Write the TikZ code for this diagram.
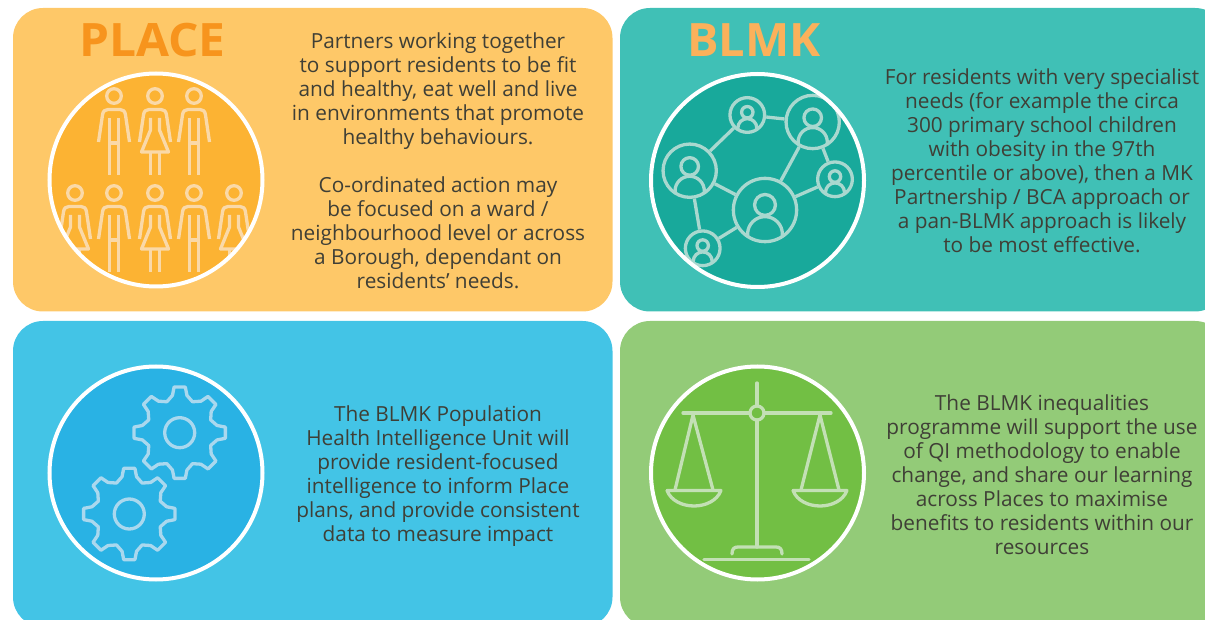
\documentclass[tikz,border=0pt]{standalone}
\usepackage{fontspec}
\setmainfont{Open Sans}
\definecolor{panO}{HTML}{FEC868}
\definecolor{panT}{HTML}{40C0B6}
\definecolor{panB}{HTML}{43C4E6}
\definecolor{panG}{HTML}{93CB78}
\definecolor{fillO}{HTML}{FCB333}
\definecolor{fillT}{HTML}{18A99B}
\definecolor{fillB}{HTML}{29B2E4}
\definecolor{fillG}{HTML}{72BF44}
\definecolor{lineO}{HTML}{FAD9A8}
\definecolor{lineT}{HTML}{A9D8CF}
\definecolor{lineB}{HTML}{AAD8EE}
\definecolor{lineG}{HTML}{C3E0B5}
\definecolor{txt}{HTML}{3F3F36}
\definecolor{titleO}{HTML}{F7941D}
\definecolor{titleT}{HTML}{FBB15B}
\tikzset{
  panel/.style={rounded corners=30pt},
  disc/.style={draw=white,line width=4pt},
  icon/.style={line width=3.3pt,line join=round},
  body/.style={font=\fontsize{20.8}{24}\selectfont,text=txt,align=center,inner sep=0pt},
  heading/.style={font=\fontsize{46}{50}\selectfont\bfseries,inner sep=0pt},
  netnode/.style={circle,draw=lineT,line width=3.3pt,inner sep=0pt,minimum size=#1}
}
\newcommand{\manicon}[2]{%
  \begin{scope}[shift={(#1,#2)}]
    \draw (0,0) circle (7.3pt);
    \draw (-15.5,46) -- (-11.5,19) .. controls (-11,15) and (-9,13.5) .. (-6,13.5) -- (6,13.5) .. controls (9,13.5) and (11,15) .. (11.5,19) -- (15.5,46);
    \draw (-4.5,22) -- (-4.5,79) (4.5,22) -- (4.5,79) (-4.5,47) -- (4.5,47);
  \end{scope}}
\newcommand{\womanicon}[2]{%
  \begin{scope}[shift={(#1,#2)}]
    \draw (0,0) circle (7.3pt);
    \draw (-15.5,46) -- (-11.5,19) .. controls (-11,15) and (-9,13.5) .. (-6,13.5) -- (6,13.5) .. controls (9,13.5) and (11,15) .. (11.5,19) -- (15.5,46);
    \draw (-4.5,22) -- (-4.5,34) -- (-13.5,56) -- (13.5,56) -- (4.5,34) -- (4.5,22);
    \draw (-4.5,56) -- (-4.5,79) (4.5,56) -- (4.5,79);
  \end{scope}}
\newcommand{\netperson}[2]{%
  \begin{scope}[shift={(#1)}]
    \clip (0,0) circle (#2 pt);
    \draw (0,{-.16*#2}) circle ({.33*#2 pt});
    \draw (0,{.76*#2}) circle ({.55*#2 pt});
  \end{scope}}
\newcommand{\gearicon}[2]{%
  \begin{scope}[shift={(#1,#2)}]
    \draw (0,0) circle (15pt);
    \draw (-7:46)
      \foreach \a in {0,45,...,315} {
        -- ({\a-7}:46) -- ({\a+7}:46) -- ({\a+11}:38) -- ({\a+22.5}:33.5) -- ({\a+34}:38)
      } -- cycle;
  \end{scope}}
\begin{document}
\begin{tikzpicture}[x=1pt,y=-1pt]
\useasboundingbox (0,0) rectangle (1205,620);
\clip (0,0) rectangle (1205,620);
% panels
\fill[panO,panel] (13,8) rectangle (612.5,311.5);
\fill[panT,panel] (620,8) rectangle (1225,311.5);
\fill[panB,panel] (13,321) rectangle (612.5,627);
\fill[panG,panel] (620,321) rectangle (1225,627);
% discs
\fill[fillO] (156,180) circle (107pt);
\fill[fillT] (757.5,180.5) circle (107pt);
\fill[fillB] (156,473) circle (107pt);
\fill[fillG] (757.5,473) circle (107pt);
% people
\begin{scope}
  \clip (156,180) circle (107pt);
  \begin{scope}[icon,draw=lineO]
    \manicon{114}{96}
    \womanicon{155}{96}
    \manicon{194}{96}
    \womanicon{75}{193}
    \manicon{114}{193}
    \womanicon{155}{193}
    \manicon{194}{193}
    \womanicon{234}{193}
  \end{scope}
\end{scope}
% network
\begin{scope}
  \clip (757.5,180.5) circle (107pt);
  \node[netnode=53.3pt] (na) at (689.7,170.7) {};
  \node[netnode=34.7pt] (nb) at (747.3,115) {};
  \node[netnode=53.3pt] (nc) at (812.7,122) {};
  \node[netnode=34.7pt] (nd) at (835,179.3) {};
  \node[netnode=63.3pt] (ne) at (765,210) {};
  \node[netnode=34.7pt] (nf) at (702.7,248.3) {};
  \begin{scope}[icon,draw=lineT]
    \draw (na) -- (nb);
    \draw (nb) -- (nc);
    \draw (nc) -- (ne);
    \draw (nc) -- (nd);
    \draw (nd) -- (ne);
    \draw (na) -- (ne);
    \draw (na) -- (nf);
    \draw (nf) -- (ne);
    \netperson{na}{26.6}
    \netperson{nb}{17.3}
    \netperson{nc}{26.6}
    \netperson{nd}{17.3}
    \netperson{ne}{31.6}
    \netperson{nf}{17.3}
  \end{scope}
\end{scope}
% gears
\begin{scope}[icon,draw=lineB]
  \gearicon{179.7}{432.7}
  \gearicon{129.3}{514}
\end{scope}
% scales
\begin{scope}[icon,draw=lineG,line cap=round]
  \draw (757,383) -- (757,547);
  \draw (683,413) -- (831,413);
  \draw[fill=fillG] (757,413) circle (7pt);
  \draw (693,415) -- (675,490) (693,415) -- (713,490);
  \draw (820,415) -- (801,490) (820,415) -- (839,490);
  \draw (667,490.5) -- (721,490.5) .. controls (717,501) and (705,506) .. (694,506) .. controls (683,506) and (671,501) .. (667,490.5);
  \draw (793,490.5) -- (847,490.5) .. controls (843,501) and (831,506) .. (820,506) .. controls (809,506) and (797,501) .. (793,490.5);
  \draw (704,559.5) -- (809,559.5);
  \draw (732,554) .. controls (732,549) and (734,547) .. (738,547) -- (776,547) .. controls (780,547) and (782,549) .. (782,554);
\end{scope}
% ring
\draw[disc] (156,180) circle (106.5pt);
\draw[disc] (757.5,180.5) circle (106.5pt);
\draw[disc] (156,473) circle (106.5pt);
\draw[disc] (757.5,473) circle (106.5pt);
% text
\node[heading,text=titleO,anchor=base] (tplace) at (152.5,57) {\scalebox{1.04}[1]{PLACE}};
\node[heading,text=titleT,anchor=base] (tblmk) at (754,57) {\scalebox{1.02}[1]{BLMK}};
\node[body,anchor=center] (t1) at (438,160.5) {Partners working together\\to support residents to be fit\\and healthy, eat well and live\\in environments that promote\\healthy behaviours.\\[24pt]Co-ordinated action may\\be focused on a ward /\\neighbourhood level or across\\a Borough, dependant on\\residents’ needs.};
\node[body,anchor=center] (t2) at (1042,161) {For residents with very specialist\\needs (for example the circa\\300 primary school children\\with obesity in the 97th\\percentile or above), then a MK\\Partnership / BCA approach or\\a pan-BLMK approach is likely\\to be most effective.};
\node[body,anchor=center] (t3) at (438,476) {The BLMK Population\\Health Intelligence Unit will\\provide resident-focused\\intelligence to inform Place\\plans, and provide consistent\\data to measure impact};
\node[body,anchor=center] (t4) at (1042,475) {The BLMK inequalities\\programme will support the use\\of QI methodology to enable\\change, and share our learning\\across Places to maximise\\benefits to residents within our\\resources};
\end{tikzpicture}
\end{document}
